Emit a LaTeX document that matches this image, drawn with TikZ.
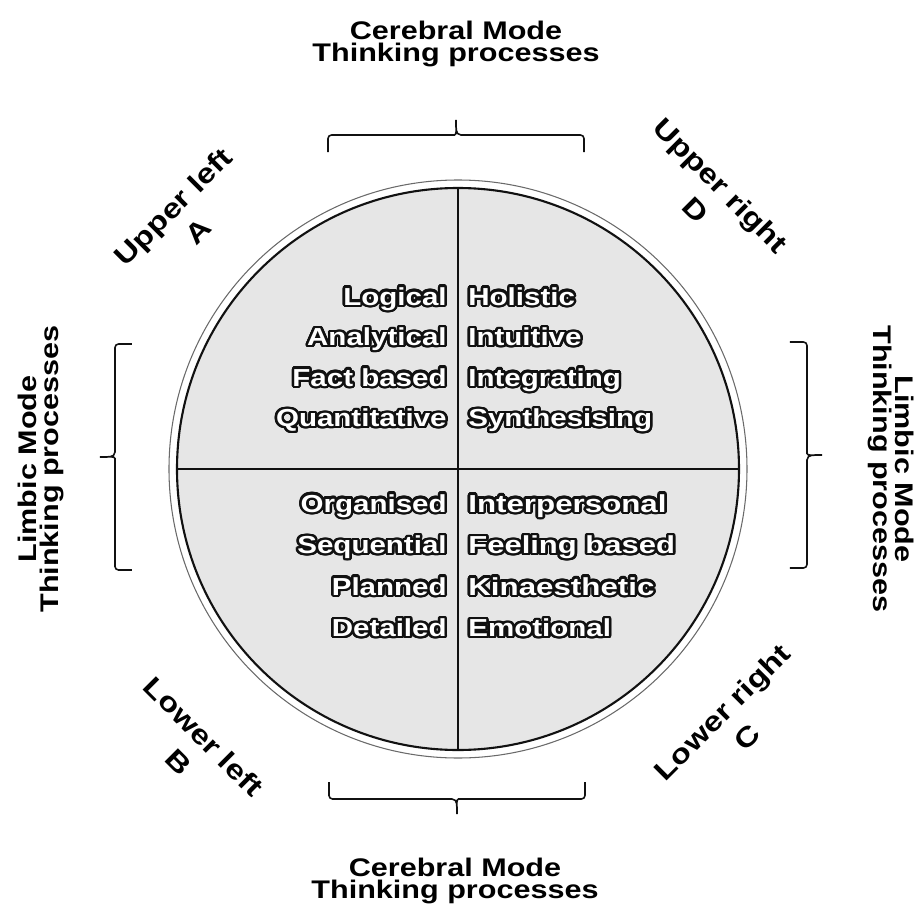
\documentclass[tikz,border=0pt]{standalone}
\usepackage{fontspec}
\setmainfont{Liberation Sans}[FakeStretch=1.2]
\usepackage{xcolor}
\usepackage{graphicx}
\usepackage{contour}
\usepackage{tikz}
\usetikzlibrary{positioning}
\definecolor{ink}{HTML}{111111}
\definecolor{stipple}{HTML}{E6E6E6}
\definecolor{rim}{HTML}{6A6A6A}
\contourlength{1.4pt}
\contournumber{24}
\tikzset{
  mode/.style={align=center, inner sep=0pt, font=\bfseries\fontsize{14.5}{13}\selectfont},
  corner/.style={align=center, inner sep=0pt, font=\bfseries\fontsize{15.6}{20}\selectfont},
  trait/.style={inner sep=0pt, text=white, font=\bfseries\fontsize{14}{16}\selectfont},
  bracket/.style={ink, line width=0.9pt},
}

\begin{document}
\begin{tikzpicture}
  \useasboundingbox (-9.16,-9.08) rectangle (9.24,9.38);
  \def\rin{5.62}
  \def\rout{5.78}
  \draw[rim, line width=0.6pt] (0,0) circle (\rout);
  \fill[stipple] (0,0) circle (\rin);
  \draw[ink, line width=0.9pt] (0,\rin) -- (0,-\rin);
  \draw[ink, line width=0.9pt] (-\rin,0) -- (\rin,0);
  \draw[ink, line width=1.2pt] (0,0) circle (\rin);
  \foreach \w [count=\i from 0] in {Logical, Analytical, Fact based, Quantitative} {
    \node[trait, anchor=base east] (a\i) at (-0.22, 3.28-\i*0.81) {\contour{ink}{\w}};
  }
  \foreach \w [count=\i from 0] in {Holistic, Intuitive, Integrating, Synthesising} {
    \node[trait, anchor=base west] (d\i) at (0.2, 3.28-\i*0.81) {\contour{ink}{\w}};
  }
  \foreach \w [count=\i from 0] in {Organised, Sequential, Planned, Detailed} {
    \node[trait, anchor=base east] (b\i) at (-0.22, -0.86-\i*0.83) {\contour{ink}{\w}};
  }
  \foreach \w/\sx [count=\i from 0] in {Interpersonal/1.06, Feeling based/1.05, Kinaesthetic/1.06, Emotional/1} {
    \node[trait, anchor=base west] (c\i) at (0.2, -0.86-\i*0.83) {\scalebox{\sx}[1]{\contour{ink}{\w}}};
  }
  \node[corner, rotate=45] (upleft) at (-5.45, 5.0) {Upper left\\A};
  \node[corner, rotate=-45] (upright) at (5.01, 5.43) {Upper right\\D};
  \node[corner, rotate=-45] (lowleft) at (-5.33, -5.6) {Lower left\\B};
  \node[corner, rotate=45] (lowright) at (5.53, -5.11) {Lower right\\C};
  \node[mode] (cerebraltop) at (-0.04, 8.5) {Cerebral Mode\\Thinking processes};
  \node[mode] (cerebralbot) at (-0.06, -8.24) {Cerebral Mode\\Thinking processes};
  \node[mode, rotate=90] (limbicleft) at (-8.34, 0) {Limbic Mode\\Thinking processes};
  \node[mode, rotate=-90] (limbicright) at (8.66, 0) {Limbic Mode\\Thinking processes};
  \foreach \ang/\half/\dd/\sh in {0/2.56/6.34/-0.04, 90/2.26/6.52/0.24, 180/2.56/6.26/0.02, 270/2.26/6.64/-0.28} {
    \begin{scope}[rotate=\ang, xshift=\sh cm]
      \draw[bracket, rounded corners=2pt] (-\half,\dd) -- (-\half,\dd+0.34) -- (-0.1,\dd+0.34)
        [sharp corners] to[out=0, in=-90] (0,\dd+0.64) to[out=-90, in=180] (0.1,\dd+0.34)
        [rounded corners=2pt] -- (\half,\dd+0.34) -- (\half,\dd);
    \end{scope}
  }
\end{tikzpicture}
\end{document}
